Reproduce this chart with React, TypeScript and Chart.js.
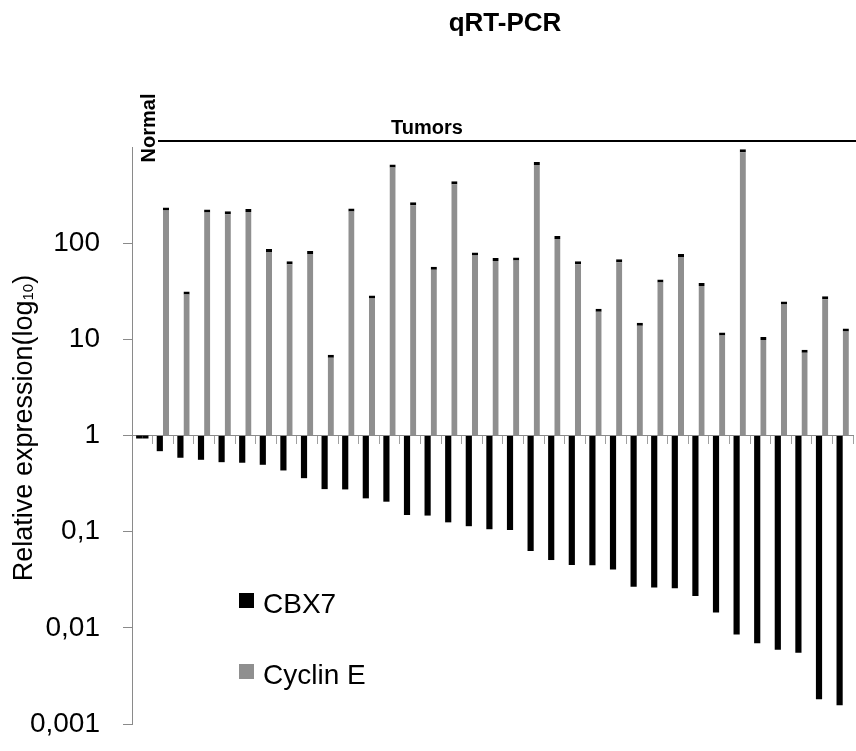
import React, { useEffect, useRef } from "react";
import { Chart, registerables } from "chart.js";

Chart.register(...registerables);

const categories = ["Normal", "T1", "T2", "T3", "T4", "T5", "T6", "T7", "T8", "T9", "T10", "T11", "T12", "T13", "T14", "T15", "T16", "T17", "T18", "T19", "T20", "T21", "T22", "T23", "T24", "T25", "T26", "T27", "T28", "T29", "T30", "T31", "T32", "T33", "T34"];

const cbx7Values = [1, 0.687, 0.587, 0.559, 0.528, 0.521, 0.496, 0.433, 0.36, 0.277, 0.275, 0.222, 0.205, 0.149, 0.147, 0.125, 0.114, 0.106, 0.104, 0.0629, 0.0507, 0.045, 0.0447, 0.0403, 0.0268, 0.0262, 0.0258, 0.0214, 0.0144, 0.0085, 0.0069, 0.0059, 0.0055, 0.00181, 0.00157];

const cyclinEValues = [1, 235, 31.5, 224, 215, 226, 87, 65, 83, 6.9, 229, 28.6, 656, 267, 57, 441, 80, 70, 71, 700, 119, 65, 20.8, 68, 14.9, 42, 77, 38.5, 11.8, 948, 10.6, 24.8, 7.8, 28, 13];

const yTickValues = [0.001, 0.01, 0.1, 1, 10, 100];

const seriesNames = ["CBX7", "Cyclin E"];
const titleText = "qRT-PCR";
const yTitleMain = "Relative expression(log";
const yTitleSub = "10";
const normalLabel = "Normal";
const tumorsLabel = "Tumors";

const FONT = '"Liberation Sans", Arial, Helvetica, sans-serif';
const GRAY = "#8f8f8f";
const AXIS = "#8a8a8a";

const decorPlugin = {
  id: "decor",
  afterDraw(chart: any) {
    const ctx = chart.ctx;
    const y = chart.scales.y;
    ctx.save();
    ctx.fillStyle = "#000";

    // Title
    ctx.font = `bold 26px ${FONT}`;
    ctx.textAlign = "center";
    ctx.textBaseline = "alphabetic";
    ctx.fillText(titleText, 505, 31);

    // Tumors label + line
    ctx.font = `bold 20px ${FONT}`;
    ctx.fillText(tumorsLabel, 427, 134);
    ctx.strokeStyle = "#000";
    ctx.lineWidth = 2;
    ctx.beginPath();
    ctx.moveTo(158, 141);
    ctx.lineTo(856, 141);
    ctx.stroke();

    // Normal label rotated
    ctx.save();
    ctx.translate(155, 128);
    ctx.rotate(-Math.PI / 2);
    ctx.textAlign = "center";
    ctx.fillText(normalLabel, 0, 0);
    ctx.restore();

    // Y axis title
    ctx.save();
    ctx.translate(32, 428);
    ctx.rotate(-Math.PI / 2);
    ctx.textAlign = "left";
    ctx.font = `27px ${FONT}`;
    const w1 = ctx.measureText(yTitleMain).width;
    ctx.font = `15px ${FONT}`;
    const w2 = ctx.measureText(yTitleSub).width;
    ctx.font = `27px ${FONT}`;
    const w3 = ctx.measureText(")").width;
    const total = w1 + w2 + w3;
    const x0 = -total / 2;
    ctx.fillText(yTitleMain, x0, 0);
    ctx.font = `15px ${FONT}`;
    ctx.fillText(yTitleSub, x0 + w1, 1);
    ctx.font = `27px ${FONT}`;
    ctx.fillText(")", x0 + w1 + w2, 0);
    ctx.restore();

    // Normal caps at value 1
    const y1 = y.getPixelForValue(1);
    chart.data.datasets.forEach((ds: any, i: number) => {
      const el = chart.getDatasetMeta(i).data[0];
      if (!el) return;
      const props = el.getProps(["x", "width"], true);
      ctx.fillStyle = "#000";
      ctx.fillRect(props.x - props.width / 2, y1, props.width, 3);
    });

    // Legend
    const legendY = [593, 664];
    const baseY = [613, 684];
    chart.data.datasets.forEach((ds: any, i: number) => {
      ctx.fillStyle = ds.backgroundColor;
      ctx.fillRect(239, legendY[i], 15, 15);
      ctx.fillStyle = "#000";
      ctx.font = `28px ${FONT}`;
      ctx.textAlign = "left";
      ctx.fillText(ds.label, 263, baseY[i]);
    });
    ctx.restore();
  },
};

export default function App() {
  const ref = useRef<HTMLCanvasElement | null>(null);
  useEffect(() => {
    if (!ref.current) return;
    const chart = new Chart(ref.current, {
      type: "bar",
      data: {
        labels: categories,
        datasets: [
          {
            label: seriesNames[0],
            data: cbx7Values,
            backgroundColor: "#000000",
            base: 1,
            borderWidth: 0,
            categoryPercentage: 0.6,
            barPercentage: 1.0,
          } as any,
          {
            label: seriesNames[1],
            data: cyclinEValues,
            backgroundColor: GRAY,
            borderColor: "#000000",
            borderWidth: { top: 3, right: 0, bottom: 0, left: 0 },
            borderSkipped: "start",
            base: 1,
            categoryPercentage: 0.6,
            barPercentage: 1.0,
          } as any,
        ],
      },
      options: {
        animation: false,
        responsive: true,
        maintainAspectRatio: false,
        layout: { padding: { left: 0, top: 147, right: 3, bottom: 27 } },
        plugins: {
          legend: { display: false },
          title: { display: false },
          tooltip: { enabled: false },
        },
        scales: {
          x: {
            type: "category",
            position: { y: 1 } as any,
            offset: true,
            ticks: { display: false },
            grid: {
              offset: true,
              drawOnChartArea: false,
              drawTicks: true,
              tickLength: 8,
              color: "#a0a0a0",
            },
            border: { display: true, color: AXIS, width: 1 },
          },
          y: {
            type: "logarithmic",
            min: 0.001,
            max: 1000,
            position: "left",
            afterBuildTicks: (scale: any) => {
              scale.ticks = yTickValues.map((v) => ({ value: v }));
            },
            afterFit: (scale: any) => {
              scale.width = 132;
              scale.paddingTop = 0;
              scale.paddingBottom = 0;
            },
            ticks: {
              color: "#000",
              font: { family: FONT, size: 28 },
              padding: 23,
              callback: (v: any) => String(v).replace(".", ","),
            },
            grid: {
              drawOnChartArea: false,
              drawTicks: true,
              tickLength: 9,
              color: AXIS,
            },
            border: { display: true, color: AXIS, width: 1 },
          },
        },
      },
      plugins: [decorPlugin],
    });
    return () => chart.destroy();
  }, []);
  return (
    <div style={{ position: "absolute", left: 0, top: 0, width: 856, height: 751, background: "#fff" }}>
      <canvas ref={ref} />
    </div>
  );
}
